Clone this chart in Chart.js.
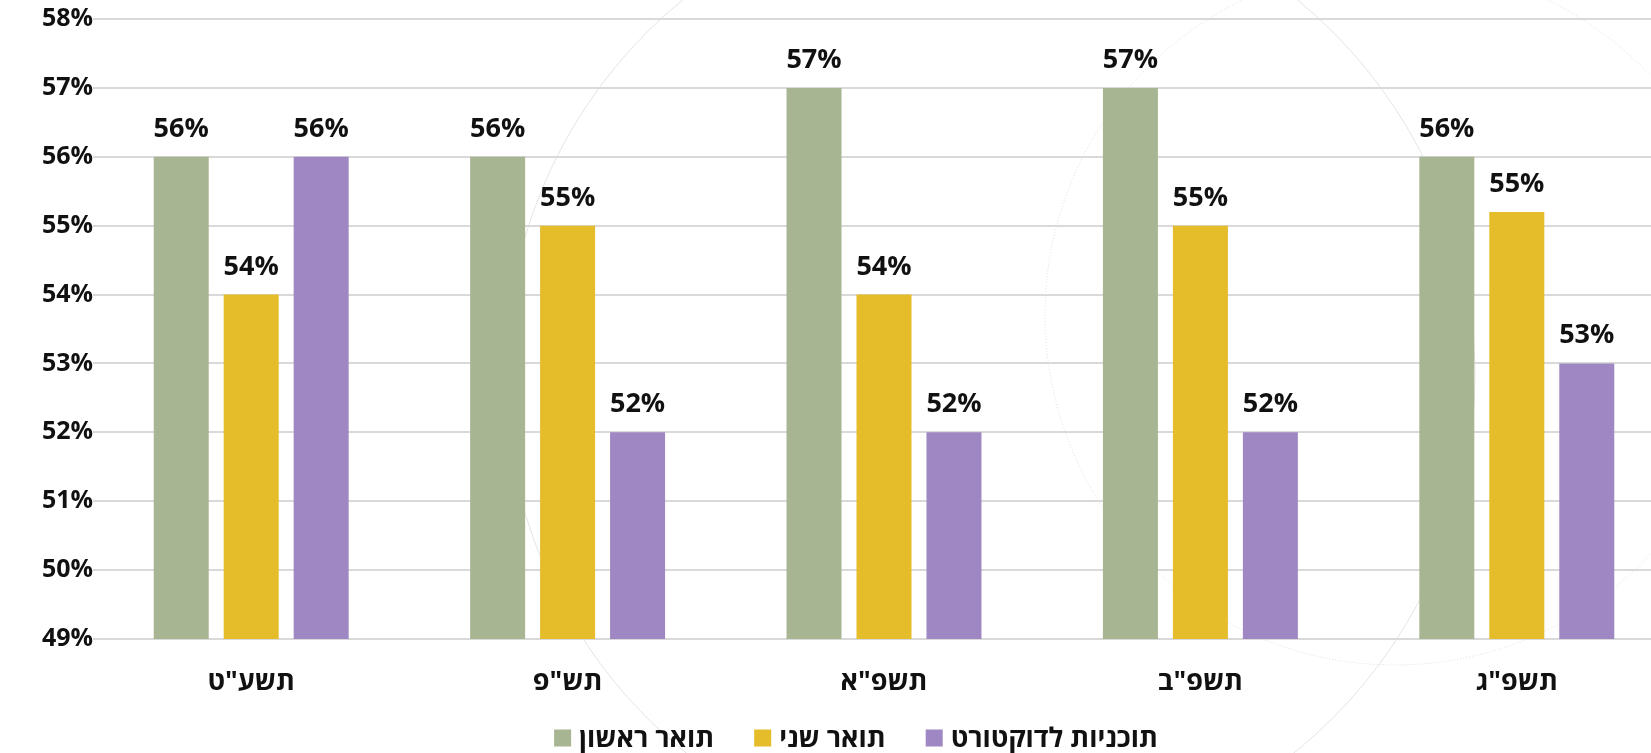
<!DOCTYPE html>
<html lang="he">
<head>
<meta charset="utf-8">
<title>שיעור נשים לפי תואר</title>
<script src="https://cdn.jsdelivr.net/npm/chart.js@4/dist/chart.umd.min.js"></script>
<style>
  html, body { margin: 0; padding: 0; overflow: hidden; background: #fff; }
  #wrap { position: relative; width: 1700px; height: 753px; }
</style>
</head>
<body>
<div id="wrap"><canvas id="chart"></canvas></div>
<script>
const years = ['תשע"ט', 'תש"פ', 'תשפ"א', 'תשפ"ב', 'תשפ"ג'];
const seriesNames = ['תואר ראשון', 'תואר שני', 'תוכניות לדוקטורט'];
const bachelor = [56, 56, 57, 57, 56];
const master = [54, 55, 54, 55, 55.2];
const doctorate = [56, 52, 52, 52, 53];
const colors = ['#a8b592', '#e5bc29', '#9e87c2'];
const yMin = 49, yMax = 58;

const FONT = "'Open Sans', 'DejaVu Sans', 'Liberation Sans', sans-serif";

// faint decorative rings behind the plot
const rings = {
    id: 'rings',
    beforeDraw(chart) {
        const ctx = chart.ctx;
        ctx.save();
        ctx.strokeStyle = '#e4e4e4';
        ctx.lineWidth = 1;
        ctx.beginPath();
        ctx.arc(990, 375, 485, 0, Math.PI * 2);
        ctx.stroke();
        ctx.setLineDash([1, 2]);
        ctx.strokeStyle = '#dcdcdc';
        ctx.beginPath();
        ctx.arc(1395, 315, 350, 0, Math.PI * 2);
        ctx.stroke();
        ctx.restore();
    }
};

// percent labels above each bar
const barValues = {
    id: 'barValues',
    afterDatasetsDraw(chart) {
        const ctx = chart.ctx;
        ctx.save();
        ctx.font = 'bold 27px ' + FONT;
        ctx.fillStyle = '#111';
        ctx.textAlign = 'center';
        ctx.textBaseline = 'alphabetic';
        chart.data.datasets.forEach((ds, i) => {
            chart.getDatasetMeta(i).data.forEach((bar, j) => {
                ctx.fillText(Math.round(ds.data[j]) + '%', bar.x, bar.y - 20);
            });
        });
        ctx.restore();
    }
};

// legend row at the bottom: box then label, left to right
const bottomLegend = {
    id: 'bottomLegend',
    afterDraw(chart) {
        const ctx = chart.ctx;
        const boxW = 17, boxH = 17, gap = 8, spacing = 40;
        ctx.save();
        ctx.font = 'bold 27px ' + FONT;
        ctx.direction = 'ltr';
        ctx.textBaseline = 'middle';
        ctx.textAlign = 'left';
        const items = chart.data.datasets.map(ds => ({
            text: ds.label, color: ds.backgroundColor, w: ctx.measureText(ds.label).width
        }));
        const total = items.reduce((s, it) => s + boxW + gap + it.w, 0) + spacing * (items.length - 1);
        let x = 856 - total / 2;
        const cy = 738;
        items.forEach(it => {
            ctx.fillStyle = it.color;
            ctx.fillRect(x, cy - boxH / 2, boxW, boxH);
            ctx.fillStyle = '#111';
            ctx.fillText(it.text, x + boxW + gap, cy + 1);
            x += boxW + gap + it.w + spacing;
        });
        ctx.restore();
    }
};

const datasets = [bachelor, master, doctorate].map((vals, i) => ({
    label: seriesNames[i],
    data: vals,
    backgroundColor: colors[i],
    categoryPercentage: 0.6635,
    barPercentage: 0.786
}));

new Chart(document.getElementById('chart'), {
    type: 'bar',
    data: { labels: years, datasets: datasets },
    options: {
        responsive: true,
        maintainAspectRatio: false,
        animation: false,
        layout: { padding: { top: 19, right: 25, bottom: 54, left: 28 } },
        plugins: {
            legend: { display: false },
            tooltip: { enabled: false }
        },
        scales: {
            x: {
                grid: { display: false },
                border: { display: false },
                ticks: {
                    color: '#111',
                    padding: 19,
                    font: { family: FONT, size: 27, weight: 'bold' }
                },
                afterFit(s) { s.height = 60; }
            },
            y: {
                min: yMin,
                max: yMax,
                grid: { color: '#d9d9d9', lineWidth: 2, drawTicks: false },
                border: { display: false },
                ticks: {
                    stepSize: 1,
                    color: '#111',
                    padding: 0,
                    font: { family: FONT, size: 25, weight: 'bold' },
                    callback: v => v + '%'
                },
                afterFit(s) { s.width = 65; }
            }
        }
    },
    plugins: [rings, barValues, bottomLegend]
});
</script>
</body>
</html>
